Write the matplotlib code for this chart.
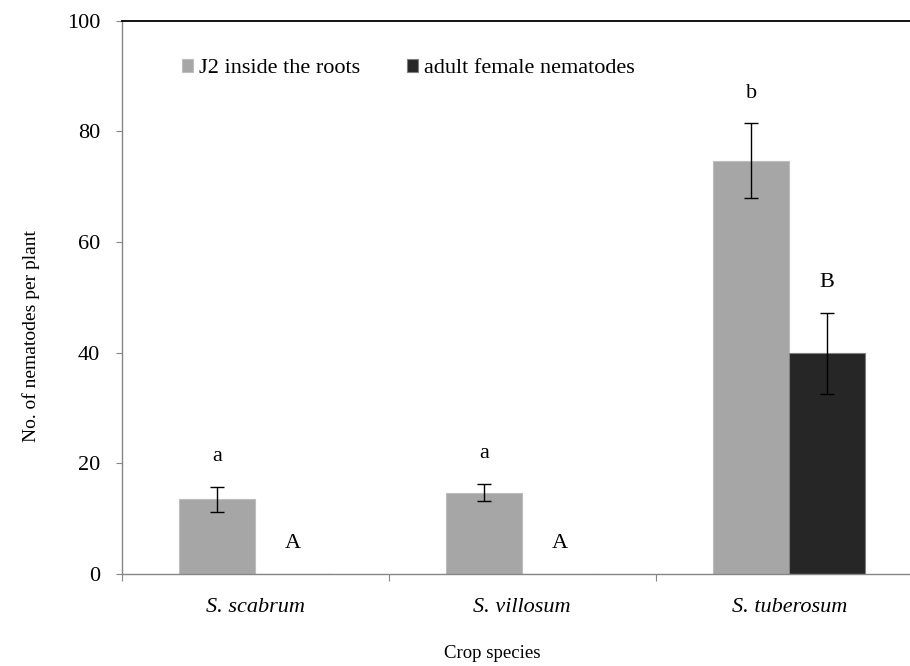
import matplotlib
matplotlib.use("Agg")
import matplotlib.pyplot as plt
import numpy as np

# mean counts per plant and their errors
species = ["S. scabrum", "S. villosum", "S. tuberosum"]
j2_mean = [13.5, 14.7, 74.7]
j2_err = [2.3, 1.5, 6.7]
female_mean = [0.0, 0.0, 39.9]
female_err = [0.0, 0.0, 7.3]
j2_letters = ["a", "a", "b"]
female_letters = ["A", "A", "B"]

plt.rcParams["font.family"] = ["Liberation Serif", "DejaVu Serif"]

fig = plt.figure(figsize=(9.1, 6.66), dpi=100)
ax = fig.add_axes([121.7 / 910, 92 / 666, 801 / 910, 553.5 / 666])

x = np.arange(len(species))
w = 0.285
ax.bar(x - w / 2, j2_mean, w, color="#a6a6a6", edgecolor="#bdbdbd", linewidth=0.8,
       label="J2 inside the roots", zorder=2)
ax.bar(x + w / 2, female_mean, w, color="#262626", edgecolor="#7f7f7f", linewidth=0.8,
       label="adult female nematodes", zorder=2)

for i in range(len(species)):
    ax.errorbar(x[i] - w / 2, j2_mean[i], yerr=j2_err[i], fmt="none", ecolor="black",
                elinewidth=1, capsize=5, capthick=1, zorder=3)
    if female_err[i] > 0:
        ax.errorbar(x[i] + w / 2, female_mean[i], yerr=female_err[i], fmt="none",
                    ecolor="black", elinewidth=1, capsize=5, capthick=1, zorder=3)
    ax.text(x[i] - w / 2, j2_mean[i] + j2_err[i] + 5.5, j2_letters[i],
            ha="center", va="center", fontsize=16)
    ax.text(x[i] + w / 2, female_mean[i] + female_err[i] + 5.5, female_letters[i],
            ha="center", va="center", fontsize=16)

ax.set_xlim(-0.5, 2.5)
ax.set_ylim(0, 100)
ax.set_yticks(range(0, 101, 20))
ax.set_xticks(np.arange(-0.5, 3.0, 1.0))
ax.set_xticklabels([])
ax.set_xticks(x, minor=True)
ax.set_xticklabels(species, minor=True, fontstyle="italic", fontsize=16)
ax.tick_params(axis="x", which="minor", length=0, pad=17)
ax.tick_params(axis="x", which="major", length=5, direction="out", color="#868686")
ax.tick_params(axis="y", length=4.5, direction="out", color="#868686", labelsize=16, pad=11)

for s in ["left", "bottom"]:
    ax.spines[s].set_color("#868686")
    ax.spines[s].set_linewidth(1)
ax.spines["top"].set_color("black")
ax.spines["top"].set_linewidth(1.3)
ax.spines["right"].set_visible(False)

ax.set_ylabel("No. of nematodes per plant", fontsize=14)
ax.yaxis.set_label_coords(-0.102, 0.43)
ax.set_xlabel("Crop species", fontsize=13.5, va="center")
ax.xaxis.set_label_coords(371 / 801, -79 / 553.5)

ax.legend(loc="upper left", bbox_to_anchor=(0.075, 0.930), ncol=2, frameon=False,
          fontsize=16, handlelength=0.5, handleheight=0.5, handletextpad=0.27,
          columnspacing=2.1, borderaxespad=0, borderpad=0)

fig.savefig("out.png", dpi=100)
